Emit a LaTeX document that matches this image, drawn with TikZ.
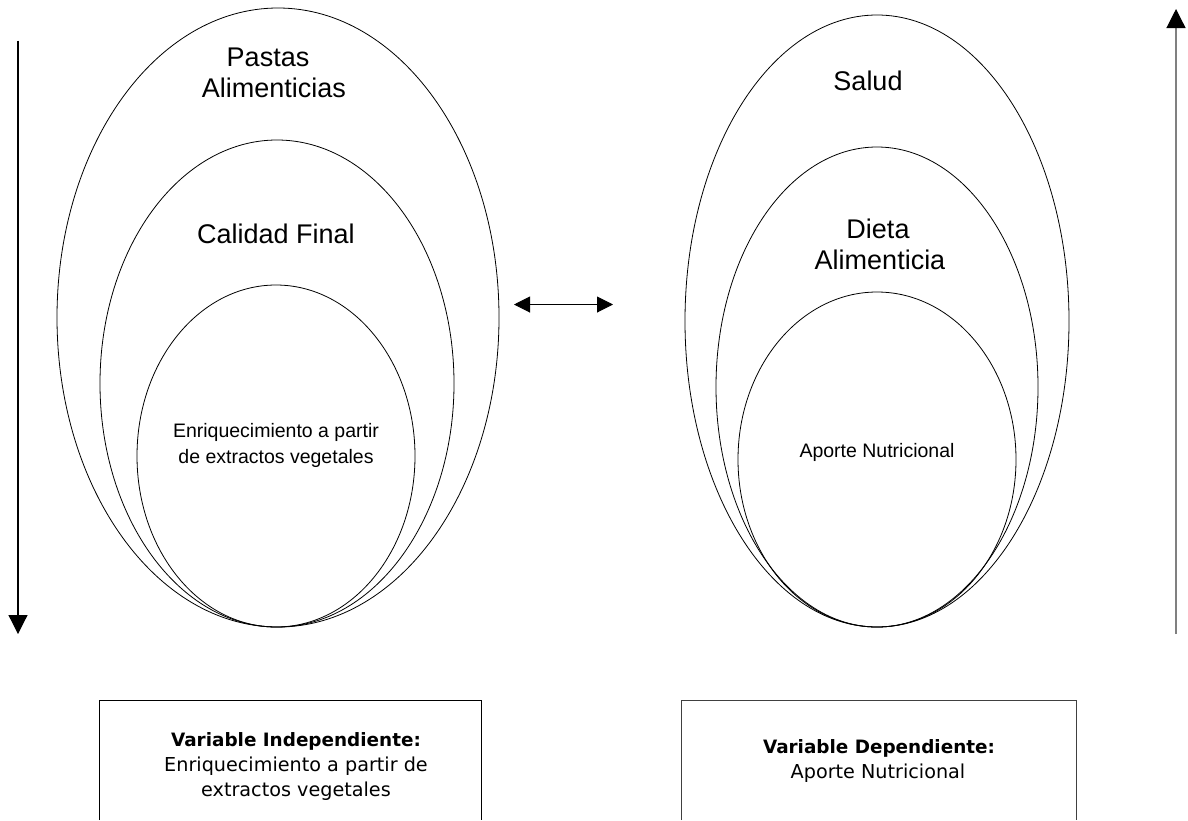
\documentclass[tikz,border=0pt]{standalone}
\usepackage{fontspec}
\setmainfont{Liberation Sans}
\newfontfamily\boxfont{DejaVu Sans}
\usetikzlibrary{arrows.meta,shapes.geometric}
\begin{document}
\begin{tikzpicture}[x=1pt,y=-1pt,
  ring/.style={draw, ellipse, inner sep=0pt, line width=0.8pt},
  biglabel/.style={font=\fontsize{27}{31}\selectfont, anchor=base, inner sep=0pt},
  smalllabel/.style={font=\fontsize{19.5}{26}\selectfont, anchor=base, inner sep=0pt},
  boxhead/.style={font=\boxfont\bfseries\fontsize{18.4}{24}\selectfont, anchor=base, inner sep=0pt},
  boxline/.style={font=\boxfont\fontsize{19.2}{24}\selectfont, anchor=base, inner sep=0pt},
  sidearrow/.style={line width=1.2pt, -{Triangle[length=19pt,width=19pt,color=black]}},
  linkarrow/.style={line width=1pt, {Triangle[length=16pt,width=16pt]}-{Triangle[length=16pt,width=16pt]}}]
\useasboundingbox (0,0) rectangle (1188,820);

% left group of nested ellipses
\node[ring, minimum width=442pt, minimum height=619pt] (lo) at (278,317.5) {};
\node[ring, minimum width=354pt, minimum height=487pt] (lm) at (277,383.5) {};
\node[ring, minimum width=278pt, minimum height=342pt] (li) at (276,456) {};
\node[biglabel] (loT1) at (268,66.5) {Pastas};
\node[biglabel] (loT2) at (274,97.5) {Alimenticias};
\node[biglabel] (lmT) at (276,243) {Calidad Final};
\node[smalllabel] (liT1) at (276,437) {Enriquecimiento a partir};
\node[smalllabel] (liT2) at (276,463) {de extractos vegetales};

% right group of nested ellipses
\node[ring, minimum width=384pt, minimum height=612pt] (ro) at (877,321) {};
\node[ring, minimum width=322pt, minimum height=480pt] (rm) at (877,387) {};
\node[ring, minimum width=278pt, minimum height=335pt] (ri) at (877,459.5) {};
\node[biglabel] (roT) at (868,90) {Salud};
\node[biglabel] (rmT1) at (878,238) {Dieta};
\node[biglabel] (rmT2) at (880,269) {Alimenticia};
\node[smalllabel] (riT) at (877,457) {Aporte Nutricional};

% arrows
\coordinate (la1) at (18,40.5);
\coordinate (la2) at (18,634);
\draw[sidearrow] (la1) -- (la2);
\coordinate (ra1) at (1176,634);
\coordinate (ra2) at (1176,9);
\draw[sidearrow, draw=gray] (ra1) -- (ra2);
\coordinate (ca1) at (514,304.5);
\coordinate (ca2) at (613,304.5);
\draw[linkarrow] (ca1) -- (ca2);

% variable boxes, open at the lower page edge
\draw[line width=0.9pt] (99,820) |- (481,700) -- (481,820);
\node[boxhead] (viH) at (296,746) {Variable Independiente:};
\node[boxline] (vi1) at (296,771.5) {Enriquecimiento a partir de};
\node[boxline] (vi2) at (296,796.5) {extractos vegetales};
\draw[line width=0.9pt, draw=black!75] (681,820) |- (1076,700) -- (1076,820);
\node[boxhead] (vdH) at (879,753) {Variable Dependiente:};
\node[boxline] (vd1) at (878,778.5) {Aporte Nutricional};
\end{tikzpicture}
\end{document}
